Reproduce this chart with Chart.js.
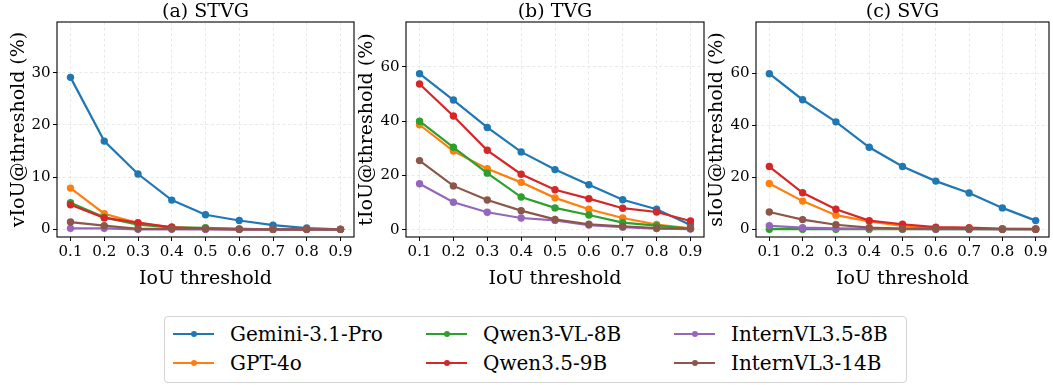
<!DOCTYPE html>
<html>
<head>
<meta charset="utf-8">
<script src="https://cdn.jsdelivr.net/npm/chart.js@4.4.1/dist/chart.umd.min.js"></script>
<style>
  body { margin: 0; background: #fff; }
  #wrap { position: relative; width: 1053px; height: 385px; overflow: hidden; font-family: "DejaVu Serif", serif; }
  #wrap canvas { position: absolute; top: 0; }
  #legend { position: absolute; left: 164px; top: 316px; width: 743px; height: 67px; border: 1px solid #d4d4d4; border-radius: 4px; box-sizing: border-box; background: #fff; }
  .handle { position: absolute; width: 41px; height: 2.4px; }
  .dot { position: absolute; left: 17.5px; top: -2.1px; width: 6.6px; height: 6.6px; border-radius: 50%; }
  .lbl { position: absolute; font-size: 20px; line-height: 24px; height: 24px; white-space: nowrap; color: #000; }
</style>
</head>
<body>
<div id="wrap">
  <canvas id="chartA" width="362" height="290" style="left:0px"></canvas>
  <canvas id="chartB" width="362" height="290" style="left:350px"></canvas>
  <canvas id="chartC" width="353" height="290" style="left:700px"></canvas>
  <div id="legend"></div>
</div>
<script>
// x values (IoU thresholds)
var thresholds = [0.1, 0.2, 0.3, 0.4, 0.5, 0.6, 0.7, 0.8, 0.9];

var models = ['Gemini-3.1-Pro', 'GPT-4o', 'Qwen3-VL-8B', 'Qwen3.5-9B', 'InternVL3.5-8B', 'InternVL3-14B'];
var colors = ['#1f77b4', '#ff7f0e', '#2ca02c', '#d62728', '#9467bd', '#8c564b'];

// (a) STVG, one row per model
var stvg = [
  [29.1, 16.9, 10.6, 5.6, 2.8, 1.7, 0.8, 0.25, 0.0],
  [7.9, 3.0, 1.2, 0.4, 0.2, 0.1, 0.0, 0.0, 0.0],
  [5.1, 2.3, 0.9, 0.4, 0.3, 0.1, 0.0, 0.0, 0.0],
  [4.7, 2.2, 1.3, 0.4, 0.1, 0.0, 0.0, 0.0, 0.0],
  [0.2, 0.2, 0.0, 0.0, 0.0, 0.0, 0.0, 0.0, 0.0],
  [1.4, 0.7, 0.1, 0.1, 0.1, 0.0, 0.0, 0.0, 0.0]
];

// (b) TVG
var tvg = [
  [57.5, 47.8, 37.7, 28.7, 22.2, 16.6, 11.1, 7.6, 1.8],
  [38.7, 29.0, 22.5, 17.5, 11.8, 7.6, 4.4, 2.0, 0.6],
  [40.0, 30.4, 20.9, 12.1, 8.1, 5.5, 2.7, 1.6, 0.5],
  [53.7, 41.9, 29.3, 20.5, 14.8, 11.5, 8.0, 6.6, 3.3],
  [17.0, 10.2, 6.5, 4.4, 3.5, 1.8, 1.0, 0.5, 0.3],
  [25.5, 16.2, 11.0, 7.1, 3.9, 2.1, 1.3, 0.7, 0.5]
];

// (c) SVG
var svg = [
  [59.8, 49.8, 41.3, 31.5, 24.1, 18.5, 13.9, 8.2, 3.3],
  [17.6, 10.8, 5.4, 3.0, 1.3, 0.4, 0.2, 0.1, 0.0],
  [0.0, 0.0, 0.0, 0.0, 0.0, 0.0, 0.0, 0.0, 0.0],
  [24.1, 14.0, 7.7, 3.3, 1.9, 0.8, 0.6, 0.1, 0.1],
  [1.3, 0.6, 0.3, 0.2, 0.1, 0.0, 0.0, 0.0, 0.0],
  [6.6, 3.7, 1.7, 0.6, 0.2, 0.2, 0.1, 0.0, 0.0]
];

var stvgTicks = [0, 10, 20, 30];
var tvgTicks = [0, 20, 40, 60];
var svgTicks = [0, 20, 40, 60];

var FONT = '"DejaVu Serif", serif';

// box around the plot area + panel title centred over it
var framePlugin = {
  id: 'frame',
  afterDraw: function(chart, args, opts) {
    var ctx = chart.ctx, a = chart.chartArea;
    ctx.save();
    ctx.strokeStyle = '#000';
    ctx.lineWidth = 1.1;
    ctx.strokeRect(a.left, a.top, a.right - a.left, a.bottom - a.top);
    ctx.fillStyle = '#000';
    ctx.font = '19px ' + FONT;
    ctx.textAlign = 'center';
    ctx.textBaseline = 'middle';
    ctx.fillText(opts.text, (a.left + a.right) / 2, 12);
    ctx.restore();
  }
};

function makePanel(id, cfg) {
  var datasets = models.map(function(name, i) {
    return {
      label: name,
      data: thresholds.map(function(t, j) { return { x: t, y: cfg.rows[i][j] }; }),
      borderColor: colors[i],
      backgroundColor: colors[i],
      pointBackgroundColor: colors[i],
      pointBorderWidth: 0,
      pointRadius: 3.7,
      borderWidth: 2.2,
      tension: 0,
      order: models.length - i
    };
  });

  var gridOpts = {
    color: '#e3e3e3',
    lineWidth: 0.8,
    tickColor: '#000',
    tickLength: 4,
    tickWidth: 1
  };

  return new Chart(document.getElementById(id), {
    type: 'line',
    data: { datasets: datasets },
    plugins: [framePlugin],
    options: {
      responsive: false,
      animation: false,
      devicePixelRatio: 1,
      layout: { padding: { top: 22, right: cfg.padRight, left: 0, bottom: 0 } },
      plugins: {
        legend: { display: false },
        tooltip: { enabled: false },
        frame: { text: cfg.title }
      },
      scales: {
        x: {
          type: 'linear',
          min: 0.06,
          max: 0.94,
          afterBuildTicks: function(s) { s.ticks = thresholds.map(function(v) { return { value: v }; }); },
          afterFit: function(s) { s.height = 53; },
          grid: gridOpts,
          border: { display: false, dash: [3, 2.5] },
          ticks: {
            autoSkip: false, maxRotation: 0, padding: 2, color: '#000',
            font: { family: FONT, size: 15 },
            callback: function(v) { return Number(v).toFixed(1); }
          },
          title: {
            display: true, text: 'IoU threshold', color: '#000',
            font: { family: FONT, size: 19 },
            padding: { top: 10.6, bottom: 0 }
          }
        },
        y: {
          min: cfg.yMin,
          max: cfg.yMax,
          afterBuildTicks: function(s) { s.ticks = cfg.yTicks.map(function(v) { return { value: v }; }); },
          afterFit: function(s) { s.width = cfg.yWidth; },
          grid: gridOpts,
          border: { display: false, dash: [3, 2.5] },
          ticks: { padding: 2.5, color: '#000', font: { family: FONT, size: 15 } },
          title: {
            display: true, text: cfg.yTitle, color: '#000',
            font: { family: FONT, size: 19 },
            padding: { top: cfg.yTitlePad, bottom: 0 }
          }
        }
      }
    }
  });
}

makePanel('chartA', { rows: stvg, title: '(a) STVG', yTitle: 'vIoU@threshold (%)', yMin: -1.46, yMax: 39.7, yTicks: stvgTicks, yWidth: 57, yTitlePad: 7.6, padRight: 8 });
makePanel('chartB', { rows: tvg, title: '(b) TVG', yTitle: 'tIoU@threshold (%)', yMin: -2.6, yMax: 76.5, yTicks: tvgTicks, yWidth: 56, yTitlePad: 6.1, padRight: 8 });
makePanel('chartC', { rows: svg, title: '(c) SVG', yTitle: 'sIoU@threshold (%)', yMin: -3.0, yMax: 79.7, yTicks: svgTicks, yWidth: 56, yTitlePad: 6.1, padRight: 1 });

// legend: 3 columns x 2 rows, column-major like matplotlib
var legend = document.getElementById('legend');
var colX = [8, 261, 509];
var rowY = [17, 46];
models.forEach(function(name, i) {
  var c = Math.floor(i / 2), r = i % 2;
  var h = document.createElement('div');
  h.className = 'handle';
  h.style.left = colX[c] + 'px';
  h.style.top = (rowY[r] - 1.2) + 'px';
  h.style.background = colors[i];
  var d = document.createElement('div');
  d.className = 'dot';
  d.style.background = colors[i];
  h.appendChild(d);
  legend.appendChild(h);
  var t = document.createElement('div');
  t.className = 'lbl';
  t.style.left = (colX[c] + 57) + 'px';
  t.style.top = (rowY[r] - 12) + 'px';
  t.textContent = name;
  legend.appendChild(t);
});
</script>
</body>
</html>
